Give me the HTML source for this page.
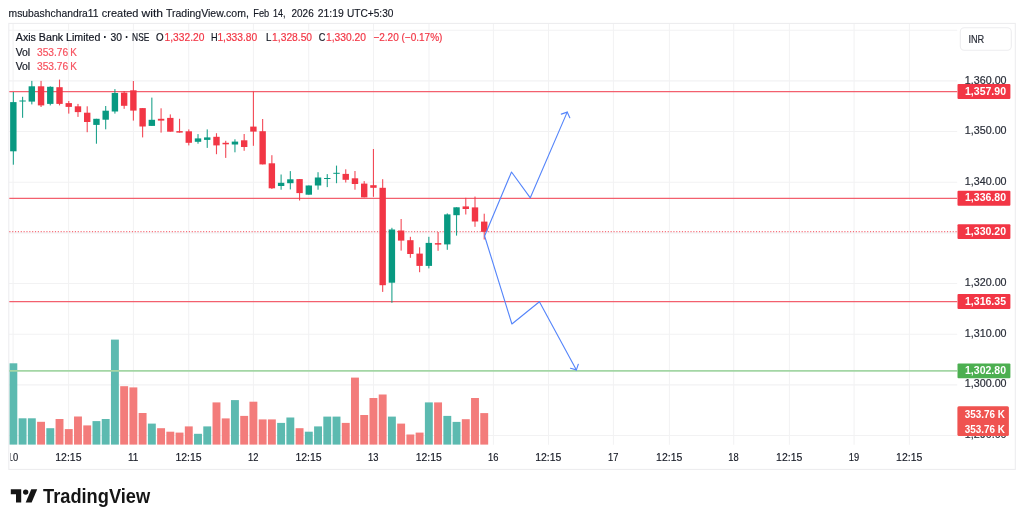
<!DOCTYPE html>
<html lang="en"><head><meta charset="utf-8"><title>Axis Bank Limited chart</title>
<style>html,body{margin:0;padding:0;background:#fff;overflow:hidden}svg{display:block}text{font-family:'Liberation Sans', sans-serif}</style>
</head><body>
<svg width="1024" height="523" viewBox="0 0 1024 523">
<rect width="1024" height="523" fill="#fff"/>
<defs><clipPath id="pane"><rect x="9.3" y="23.4" width="947.9" height="421.4"/></clipPath></defs>
<g stroke="#f2f2f3" stroke-width="1.05" fill="none">
<line x1="13.10" y1="23.4" x2="13.10" y2="444.8"/>
<line x1="68.60" y1="23.4" x2="68.60" y2="444.8"/>
<line x1="133.40" y1="23.4" x2="133.40" y2="444.8"/>
<line x1="188.70" y1="23.4" x2="188.70" y2="444.8"/>
<line x1="253.40" y1="23.4" x2="253.40" y2="444.8"/>
<line x1="308.70" y1="23.4" x2="308.70" y2="444.8"/>
<line x1="373.50" y1="23.4" x2="373.50" y2="444.8"/>
<line x1="429.00" y1="23.4" x2="429.00" y2="444.8"/>
<line x1="493.40" y1="23.4" x2="493.40" y2="444.8"/>
<line x1="548.50" y1="23.4" x2="548.50" y2="444.8"/>
<line x1="613.40" y1="23.4" x2="613.40" y2="444.8"/>
<line x1="669.40" y1="23.4" x2="669.40" y2="444.8"/>
<line x1="733.70" y1="23.4" x2="733.70" y2="444.8"/>
<line x1="789.40" y1="23.4" x2="789.40" y2="444.8"/>
<line x1="854.10" y1="23.4" x2="854.10" y2="444.8"/>
<line x1="909.40" y1="23.4" x2="909.40" y2="444.8"/>
<line x1="8.8" y1="435.55" x2="957.2" y2="435.55"/>
<line x1="8.8" y1="384.88" x2="957.2" y2="384.88"/>
<line x1="8.8" y1="334.21" x2="957.2" y2="334.21"/>
<line x1="8.8" y1="283.54" x2="957.2" y2="283.54"/>
<line x1="8.8" y1="232.87" x2="957.2" y2="232.87"/>
<line x1="8.8" y1="182.20" x2="957.2" y2="182.20"/>
<line x1="8.8" y1="131.53" x2="957.2" y2="131.53"/>
<line x1="8.8" y1="80.86" x2="957.2" y2="80.86"/>
<line x1="8.8" y1="30.19" x2="957.2" y2="30.19"/>
</g>
<rect x="8.8" y="23.4" width="1006.5" height="446.0" fill="none" stroke="#ededef" stroke-width="1.1"/>
<g clip-path="url(#pane)">
<rect x="9.40" y="363.3" width="7.9" height="81.5" fill="#5cbab0"/>
<rect x="18.63" y="418.3" width="7.9" height="26.5" fill="#5cbab0"/>
<rect x="27.87" y="418.3" width="7.9" height="26.5" fill="#5cbab0"/>
<rect x="37.10" y="421.8" width="7.9" height="23.0" fill="#f37c7b"/>
<rect x="46.33" y="428.2" width="7.9" height="16.6" fill="#5cbab0"/>
<rect x="55.57" y="419.0" width="7.9" height="25.8" fill="#f37c7b"/>
<rect x="64.80" y="429.1" width="7.9" height="15.7" fill="#f37c7b"/>
<rect x="74.03" y="416.5" width="7.9" height="28.3" fill="#f37c7b"/>
<rect x="83.26" y="425.4" width="7.9" height="19.4" fill="#f37c7b"/>
<rect x="92.50" y="421.1" width="7.9" height="23.7" fill="#5cbab0"/>
<rect x="101.73" y="419.0" width="7.9" height="25.8" fill="#5cbab0"/>
<rect x="110.96" y="339.6" width="7.9" height="105.2" fill="#5cbab0"/>
<rect x="120.20" y="386.2" width="7.9" height="58.6" fill="#f37c7b"/>
<rect x="129.43" y="387.4" width="7.9" height="57.4" fill="#f37c7b"/>
<rect x="138.66" y="413.0" width="7.9" height="31.8" fill="#f37c7b"/>
<rect x="147.90" y="423.6" width="7.9" height="21.2" fill="#5cbab0"/>
<rect x="157.13" y="428.2" width="7.9" height="16.6" fill="#f37c7b"/>
<rect x="166.36" y="431.7" width="7.9" height="13.1" fill="#f37c7b"/>
<rect x="175.59" y="432.6" width="7.9" height="12.2" fill="#f37c7b"/>
<rect x="184.83" y="426.4" width="7.9" height="18.4" fill="#f37c7b"/>
<rect x="194.06" y="433.8" width="7.9" height="11.0" fill="#5cbab0"/>
<rect x="203.29" y="426.4" width="7.9" height="18.4" fill="#5cbab0"/>
<rect x="212.53" y="402.4" width="7.9" height="42.4" fill="#f37c7b"/>
<rect x="221.76" y="418.4" width="7.9" height="26.4" fill="#f37c7b"/>
<rect x="230.99" y="400.1" width="7.9" height="44.7" fill="#5cbab0"/>
<rect x="240.23" y="415.9" width="7.9" height="28.9" fill="#f37c7b"/>
<rect x="249.46" y="401.7" width="7.9" height="43.1" fill="#f37c7b"/>
<rect x="258.69" y="419.4" width="7.9" height="25.4" fill="#f37c7b"/>
<rect x="267.92" y="419.4" width="7.9" height="25.4" fill="#f37c7b"/>
<rect x="277.16" y="422.9" width="7.9" height="21.9" fill="#5cbab0"/>
<rect x="286.39" y="417.5" width="7.9" height="27.3" fill="#5cbab0"/>
<rect x="295.62" y="428.2" width="7.9" height="16.6" fill="#f37c7b"/>
<rect x="304.86" y="431.7" width="7.9" height="13.1" fill="#5cbab0"/>
<rect x="314.09" y="426.4" width="7.9" height="18.4" fill="#5cbab0"/>
<rect x="323.32" y="416.6" width="7.9" height="28.2" fill="#5cbab0"/>
<rect x="332.56" y="416.6" width="7.9" height="28.2" fill="#5cbab0"/>
<rect x="341.79" y="422.9" width="7.9" height="21.9" fill="#f37c7b"/>
<rect x="351.02" y="377.6" width="7.9" height="67.2" fill="#f37c7b"/>
<rect x="360.25" y="415.0" width="7.9" height="29.8" fill="#f37c7b"/>
<rect x="369.49" y="398.0" width="7.9" height="46.8" fill="#f37c7b"/>
<rect x="378.72" y="394.5" width="7.9" height="50.3" fill="#f37c7b"/>
<rect x="387.95" y="416.6" width="7.9" height="28.2" fill="#5cbab0"/>
<rect x="397.19" y="423.6" width="7.9" height="21.2" fill="#f37c7b"/>
<rect x="406.42" y="434.5" width="7.9" height="10.3" fill="#f37c7b"/>
<rect x="415.65" y="432.6" width="7.9" height="12.2" fill="#f37c7b"/>
<rect x="424.89" y="402.4" width="7.9" height="42.4" fill="#5cbab0"/>
<rect x="434.12" y="402.4" width="7.9" height="42.4" fill="#f37c7b"/>
<rect x="443.35" y="415.9" width="7.9" height="28.9" fill="#5cbab0"/>
<rect x="452.58" y="421.9" width="7.9" height="22.9" fill="#5cbab0"/>
<rect x="461.82" y="419.2" width="7.9" height="25.6" fill="#f37c7b"/>
<rect x="471.05" y="398.0" width="7.9" height="46.8" fill="#f37c7b"/>
<rect x="480.28" y="413.1" width="7.9" height="31.7" fill="#f37c7b"/>
</g>
<line x1="9.3" y1="91.60" x2="957.2" y2="91.60" stroke="#f3606e" stroke-width="1.2"/>
<line x1="9.3" y1="198.35" x2="957.2" y2="198.35" stroke="#f3606e" stroke-width="1.2"/>
<line x1="9.3" y1="301.65" x2="957.2" y2="301.65" stroke="#f3606e" stroke-width="1.2"/>
<line x1="9.3" y1="370.95" x2="957.2" y2="370.95" stroke="#a3d6a5" stroke-width="1.7"/>
<line x1="9.3" y1="231.65" x2="957.2" y2="231.65" stroke="#f23645" stroke-width="1.1" stroke-dasharray="1.15 1.7" opacity="0.7"/>
<g clip-path="url(#pane)">
<rect x="12.80" y="92.0" width="1.1" height="72.7" fill="#089981" opacity="0.9"/>
<rect x="10.15" y="102.1" width="6.4" height="49.2" fill="#089981"/>
<rect x="22.03" y="96.8" width="1.1" height="21.0" fill="#089981" opacity="0.9"/>
<rect x="19.38" y="100.5" width="6.4" height="1.0" fill="#089981"/>
<rect x="31.27" y="80.9" width="1.1" height="23.5" fill="#089981" opacity="0.9"/>
<rect x="28.62" y="86.3" width="6.4" height="15.3" fill="#089981"/>
<rect x="40.50" y="80.9" width="1.1" height="26.1" fill="#f23645" opacity="0.9"/>
<rect x="37.85" y="86.3" width="6.4" height="19.1" fill="#f23645"/>
<rect x="49.73" y="86.3" width="1.1" height="19.1" fill="#089981" opacity="0.9"/>
<rect x="47.08" y="86.8" width="6.4" height="17.1" fill="#089981"/>
<rect x="58.97" y="79.6" width="1.1" height="25.8" fill="#f23645" opacity="0.9"/>
<rect x="56.32" y="87.2" width="6.4" height="16.7" fill="#f23645"/>
<rect x="68.20" y="101.0" width="1.1" height="12.6" fill="#f23645" opacity="0.9"/>
<rect x="65.55" y="103.1" width="6.4" height="3.8" fill="#f23645"/>
<rect x="77.43" y="103.9" width="1.1" height="13.0" fill="#f23645" opacity="0.9"/>
<rect x="74.78" y="106.3" width="6.4" height="5.8" fill="#f23645"/>
<rect x="86.66" y="106.3" width="1.1" height="25.9" fill="#f23645" opacity="0.9"/>
<rect x="84.01" y="112.7" width="6.4" height="9.3" fill="#f23645"/>
<rect x="95.90" y="118.8" width="1.1" height="24.9" fill="#089981" opacity="0.9"/>
<rect x="93.25" y="118.8" width="6.4" height="6.1" fill="#089981"/>
<rect x="105.13" y="106.0" width="1.1" height="23.3" fill="#089981" opacity="0.9"/>
<rect x="102.48" y="110.7" width="6.4" height="9.0" fill="#089981"/>
<rect x="114.36" y="89.1" width="1.1" height="24.5" fill="#089981" opacity="0.9"/>
<rect x="111.71" y="93.0" width="6.4" height="18.5" fill="#089981"/>
<rect x="123.60" y="91.0" width="1.1" height="17.8" fill="#f23645" opacity="0.9"/>
<rect x="120.95" y="92.6" width="6.4" height="13.2" fill="#f23645"/>
<rect x="132.83" y="81.0" width="1.1" height="39.6" fill="#f23645" opacity="0.9"/>
<rect x="130.18" y="90.3" width="6.4" height="20.3" fill="#f23645"/>
<rect x="142.06" y="108.1" width="1.1" height="29.3" fill="#f23645" opacity="0.9"/>
<rect x="139.41" y="108.1" width="6.4" height="18.4" fill="#f23645"/>
<rect x="151.29" y="97.6" width="1.1" height="28.3" fill="#089981" opacity="0.9"/>
<rect x="148.65" y="119.8" width="6.4" height="6.1" fill="#089981"/>
<rect x="160.53" y="108.3" width="1.1" height="24.3" fill="#f23645" opacity="0.9"/>
<rect x="157.88" y="118.8" width="6.4" height="1.8" fill="#f23645"/>
<rect x="169.76" y="114.4" width="1.1" height="17.3" fill="#f23645" opacity="0.9"/>
<rect x="167.11" y="117.9" width="6.4" height="13.8" fill="#f23645"/>
<rect x="178.99" y="118.8" width="1.1" height="13.8" fill="#f23645" opacity="0.9"/>
<rect x="176.34" y="131.1" width="6.4" height="1.5" fill="#f23645"/>
<rect x="188.23" y="129.4" width="1.1" height="16.0" fill="#f23645" opacity="0.9"/>
<rect x="185.58" y="131.3" width="6.4" height="11.5" fill="#f23645"/>
<rect x="197.46" y="134.1" width="1.1" height="9.6" fill="#089981" opacity="0.9"/>
<rect x="194.81" y="138.4" width="6.4" height="3.4" fill="#089981"/>
<rect x="206.69" y="129.4" width="1.1" height="18.5" fill="#089981" opacity="0.9"/>
<rect x="204.04" y="137.4" width="6.4" height="2.5" fill="#089981"/>
<rect x="215.93" y="133.2" width="1.1" height="21.0" fill="#f23645" opacity="0.9"/>
<rect x="213.28" y="136.8" width="6.4" height="8.6" fill="#f23645"/>
<rect x="225.16" y="140.8" width="1.1" height="17.1" fill="#f23645" opacity="0.9"/>
<rect x="222.51" y="142.8" width="6.4" height="1.5" fill="#f23645"/>
<rect x="234.39" y="139.3" width="1.1" height="13.0" fill="#089981" opacity="0.9"/>
<rect x="231.74" y="141.6" width="6.4" height="2.9" fill="#089981"/>
<rect x="243.62" y="134.0" width="1.1" height="16.8" fill="#f23645" opacity="0.9"/>
<rect x="240.98" y="140.3" width="6.4" height="6.7" fill="#f23645"/>
<rect x="252.86" y="91.5" width="1.1" height="54.3" fill="#f23645" opacity="0.9"/>
<rect x="250.21" y="126.6" width="6.4" height="5.0" fill="#f23645"/>
<rect x="262.09" y="119.0" width="1.1" height="45.4" fill="#f23645" opacity="0.9"/>
<rect x="259.44" y="131.2" width="6.4" height="33.2" fill="#f23645"/>
<rect x="271.32" y="155.2" width="1.1" height="33.8" fill="#f23645" opacity="0.9"/>
<rect x="268.67" y="163.3" width="6.4" height="25.0" fill="#f23645"/>
<rect x="280.56" y="174.5" width="1.1" height="15.2" fill="#089981" opacity="0.9"/>
<rect x="277.91" y="182.8" width="6.4" height="3.2" fill="#089981"/>
<rect x="289.79" y="171.1" width="1.1" height="18.3" fill="#089981" opacity="0.9"/>
<rect x="287.14" y="179.3" width="6.4" height="3.9" fill="#089981"/>
<rect x="299.02" y="179.1" width="1.1" height="21.4" fill="#f23645" opacity="0.9"/>
<rect x="296.37" y="179.1" width="6.4" height="14.0" fill="#f23645"/>
<rect x="308.26" y="185.5" width="1.1" height="9.2" fill="#089981" opacity="0.9"/>
<rect x="305.61" y="185.5" width="6.4" height="9.2" fill="#089981"/>
<rect x="317.49" y="172.2" width="1.1" height="17.5" fill="#089981" opacity="0.9"/>
<rect x="314.84" y="177.5" width="6.4" height="8.0" fill="#089981"/>
<rect x="326.72" y="174.1" width="1.1" height="13.0" fill="#089981" opacity="0.9"/>
<rect x="324.07" y="178.0" width="6.4" height="1.0" fill="#089981"/>
<rect x="335.96" y="165.6" width="1.1" height="17.6" fill="#089981" opacity="0.9"/>
<rect x="333.31" y="172.8" width="6.4" height="1.0" fill="#089981"/>
<rect x="345.19" y="169.3" width="1.1" height="13.2" fill="#f23645" opacity="0.9"/>
<rect x="342.54" y="173.9" width="6.4" height="5.9" fill="#f23645"/>
<rect x="354.42" y="171.0" width="1.1" height="18.7" fill="#f23645" opacity="0.9"/>
<rect x="351.77" y="178.3" width="6.4" height="5.7" fill="#f23645"/>
<rect x="363.65" y="181.1" width="1.1" height="16.3" fill="#f23645" opacity="0.9"/>
<rect x="361.00" y="183.6" width="6.4" height="13.8" fill="#f23645"/>
<rect x="372.89" y="149.0" width="1.1" height="47.8" fill="#f23645" opacity="0.9"/>
<rect x="370.24" y="185.2" width="6.4" height="2.6" fill="#f23645"/>
<rect x="382.12" y="179.2" width="1.1" height="112.7" fill="#f23645" opacity="0.9"/>
<rect x="379.47" y="187.8" width="6.4" height="97.4" fill="#f23645"/>
<rect x="391.35" y="227.8" width="1.1" height="75.0" fill="#089981" opacity="0.9"/>
<rect x="388.70" y="229.5" width="6.4" height="53.2" fill="#089981"/>
<rect x="400.59" y="219.0" width="1.1" height="31.6" fill="#f23645" opacity="0.9"/>
<rect x="397.94" y="230.5" width="6.4" height="10.1" fill="#f23645"/>
<rect x="409.82" y="236.8" width="1.1" height="21.0" fill="#f23645" opacity="0.9"/>
<rect x="407.17" y="240.2" width="6.4" height="13.8" fill="#f23645"/>
<rect x="419.05" y="247.3" width="1.1" height="24.9" fill="#f23645" opacity="0.9"/>
<rect x="416.40" y="253.6" width="6.4" height="12.3" fill="#f23645"/>
<rect x="428.29" y="236.8" width="1.1" height="31.6" fill="#089981" opacity="0.9"/>
<rect x="425.64" y="242.9" width="6.4" height="23.0" fill="#089981"/>
<rect x="437.52" y="232.0" width="1.1" height="18.8" fill="#f23645" opacity="0.9"/>
<rect x="434.87" y="243.1" width="6.4" height="1.5" fill="#f23645"/>
<rect x="446.75" y="213.4" width="1.1" height="36.4" fill="#089981" opacity="0.9"/>
<rect x="444.10" y="214.4" width="6.4" height="30.0" fill="#089981"/>
<rect x="455.98" y="207.3" width="1.1" height="28.3" fill="#089981" opacity="0.9"/>
<rect x="453.33" y="207.3" width="6.4" height="7.9" fill="#089981"/>
<rect x="465.22" y="197.8" width="1.1" height="16.7" fill="#f23645" opacity="0.9"/>
<rect x="462.57" y="206.4" width="6.4" height="2.6" fill="#f23645"/>
<rect x="474.45" y="196.6" width="1.1" height="30.2" fill="#f23645" opacity="0.9"/>
<rect x="471.80" y="207.4" width="6.4" height="14.1" fill="#f23645"/>
<rect x="483.68" y="213.7" width="1.1" height="25.8" fill="#f23645" opacity="0.9"/>
<rect x="481.03" y="221.6" width="6.4" height="10.3" fill="#f23645"/>
</g>
<g fill="none" stroke="#5585fa" stroke-width="1.12" stroke-linejoin="round" stroke-linecap="round">
<polyline points="484.6,236 511.5,172 530.3,197.8 567.2,112.1"/>
<polyline points="561.3,114.1 567.2,112.1 569.8,117.7"/>
<polyline points="484.6,236 511.9,324 539.4,301.7 576.4,369.9"/>
<polyline points="570.5,368.2 576.4,369.9 578.3,364.3"/>
</g>
<text x="8.6" y="16.8" font-size="11.4" fill="#131722" stroke="#131722" stroke-width="0.15" textLength="90.0" lengthAdjust="spacingAndGlyphs">msubashchandra11</text>
<text x="101.8" y="16.8" font-size="11.4" fill="#131722" stroke="#131722" stroke-width="0.15" textLength="36.6" lengthAdjust="spacingAndGlyphs">created</text>
<text x="141.6" y="16.8" font-size="11.4" fill="#131722" stroke="#131722" stroke-width="0.15" textLength="21.5" lengthAdjust="spacingAndGlyphs">with</text>
<text x="166.0" y="16.8" font-size="11.4" fill="#131722" stroke="#131722" stroke-width="0.15" textLength="82.8" lengthAdjust="spacingAndGlyphs">TradingView.com,</text>
<text x="253.3" y="16.8" font-size="11.4" fill="#131722" stroke="#131722" stroke-width="0.15" textLength="15.9" lengthAdjust="spacingAndGlyphs">Feb</text>
<text x="273.1" y="16.8" font-size="11.4" fill="#131722" stroke="#131722" stroke-width="0.15" textLength="12.5" lengthAdjust="spacingAndGlyphs">14,</text>
<text x="291.5" y="16.8" font-size="11.4" fill="#131722" stroke="#131722" stroke-width="0.15" textLength="22.2" lengthAdjust="spacingAndGlyphs">2026</text>
<text x="317.8" y="16.8" font-size="11.4" fill="#131722" stroke="#131722" stroke-width="0.15" textLength="26.0" lengthAdjust="spacingAndGlyphs">21:19</text>
<text x="347.0" y="16.8" font-size="11.4" fill="#131722" stroke="#131722" stroke-width="0.15" textLength="46.4" lengthAdjust="spacingAndGlyphs">UTC+5:30</text>
<text x="15.8" y="41.1" font-size="11" fill="#131722" textLength="84.6" lengthAdjust="spacingAndGlyphs" stroke="#131722" stroke-width="0.2">Axis Bank Limited</text>
<text x="103.3" y="41.1" font-size="12" fill="#131722" textLength="3.8" lengthAdjust="spacingAndGlyphs" font-weight="bold">·</text>
<text x="110.5" y="41.1" font-size="11" fill="#131722" textLength="11.5" lengthAdjust="spacingAndGlyphs" stroke="#131722" stroke-width="0.2">30</text>
<text x="124.9" y="41.1" font-size="12" fill="#131722" textLength="3.8" lengthAdjust="spacingAndGlyphs" font-weight="bold">·</text>
<text x="132.1" y="41.1" font-size="11" fill="#131722" textLength="17.2" lengthAdjust="spacingAndGlyphs" stroke="#131722" stroke-width="0.2">NSE</text>
<text x="156.1" y="41.1" font-size="11" fill="#131722" textLength="7.6" lengthAdjust="spacingAndGlyphs" stroke="#131722" stroke-width="0.2">O</text>
<text x="164.6" y="41.1" font-size="11" fill="#f23645" textLength="39.8" lengthAdjust="spacingAndGlyphs" stroke="#f23645" stroke-width="0.2">1,332.20</text>
<text x="211.1" y="41.1" font-size="11" fill="#131722" textLength="6.6" lengthAdjust="spacingAndGlyphs" stroke="#131722" stroke-width="0.2">H</text>
<text x="217.4" y="41.1" font-size="11" fill="#f23645" textLength="39.8" lengthAdjust="spacingAndGlyphs" stroke="#f23645" stroke-width="0.2">1,333.80</text>
<text x="266.0" y="41.1" font-size="11" fill="#131722" textLength="5.4" lengthAdjust="spacingAndGlyphs" stroke="#131722" stroke-width="0.2">L</text>
<text x="272.1" y="41.1" font-size="11" fill="#f23645" textLength="40.0" lengthAdjust="spacingAndGlyphs" stroke="#f23645" stroke-width="0.2">1,328.50</text>
<text x="318.8" y="41.1" font-size="11" fill="#131722" textLength="6.6" lengthAdjust="spacingAndGlyphs" stroke="#131722" stroke-width="0.2">C</text>
<text x="326.0" y="41.1" font-size="11" fill="#f23645" textLength="40.0" lengthAdjust="spacingAndGlyphs" stroke="#f23645" stroke-width="0.2">1,330.20</text>
<text x="373.4" y="41.1" font-size="11" fill="#f23645" textLength="69.0" lengthAdjust="spacingAndGlyphs" stroke="#f23645" stroke-width="0.2">−2.20 (−0.17%)</text>
<text x="15.7" y="55.7" font-size="11" fill="#131722" textLength="14.5" lengthAdjust="spacingAndGlyphs" stroke="#131722" stroke-width="0.2">Vol</text>
<text x="37.0" y="55.7" font-size="11" fill="#f7525f" textLength="31.2" lengthAdjust="spacingAndGlyphs" stroke="#f7525f" stroke-width="0.2">353.76</text>
<text x="70.3" y="55.7" font-size="11" fill="#f7525f" textLength="6.6" lengthAdjust="spacingAndGlyphs" stroke="#f7525f" stroke-width="0.2">K</text>
<text x="15.7" y="70.3" font-size="11" fill="#131722" textLength="14.5" lengthAdjust="spacingAndGlyphs" stroke="#131722" stroke-width="0.2">Vol</text>
<text x="37.0" y="70.3" font-size="11" fill="#f7525f" textLength="31.2" lengthAdjust="spacingAndGlyphs" stroke="#f7525f" stroke-width="0.2">353.76</text>
<text x="70.3" y="70.3" font-size="11" fill="#f7525f" textLength="6.6" lengthAdjust="spacingAndGlyphs" stroke="#f7525f" stroke-width="0.2">K</text>
<rect x="960.3" y="27.7" width="51" height="22.5" rx="4" ry="4" fill="#fff" stroke="#ededef" stroke-width="1.1"/>
<text x="968.4" y="43.2" font-size="11" fill="#2a2e39" textLength="15.8" lengthAdjust="spacingAndGlyphs" stroke="#2a2e39" stroke-width="0.2">INR</text>
<text x="964.8" y="83.8" font-size="11" fill="#2a2e39" textLength="41.8" lengthAdjust="spacingAndGlyphs" stroke="#2a2e39" stroke-width="0.2">1,360.00</text>
<text x="964.8" y="134.4" font-size="11" fill="#2a2e39" textLength="41.8" lengthAdjust="spacingAndGlyphs" stroke="#2a2e39" stroke-width="0.2">1,350.00</text>
<text x="964.8" y="185.0" font-size="11" fill="#2a2e39" textLength="41.8" lengthAdjust="spacingAndGlyphs" stroke="#2a2e39" stroke-width="0.2">1,340.00</text>
<text x="964.8" y="286.2" font-size="11" fill="#2a2e39" textLength="41.8" lengthAdjust="spacingAndGlyphs" stroke="#2a2e39" stroke-width="0.2">1,320.00</text>
<text x="964.8" y="336.8" font-size="11" fill="#2a2e39" textLength="41.8" lengthAdjust="spacingAndGlyphs" stroke="#2a2e39" stroke-width="0.2">1,310.00</text>
<text x="964.8" y="387.4" font-size="11" fill="#2a2e39" textLength="41.8" lengthAdjust="spacingAndGlyphs" stroke="#2a2e39" stroke-width="0.2">1,300.00</text>
<text x="964.8" y="438.0" font-size="11" fill="#2a2e39" textLength="41.8" lengthAdjust="spacingAndGlyphs" stroke="#2a2e39" stroke-width="0.2">1,290.00</text>
<rect x="957.4" y="406.2" width="51.5" height="29.7" rx="1.5" fill="#ef5350"/>
<text x="964.7" y="418.0" font-size="11" fill="#fff" textLength="40.1" lengthAdjust="spacingAndGlyphs" font-weight="bold">353.76 K</text>
<text x="964.7" y="432.5" font-size="11" fill="#fff" textLength="40.1" lengthAdjust="spacingAndGlyphs" font-weight="bold">353.76 K</text>
<rect x="957.5" y="84.1" width="52.9" height="14.9" rx="1" fill="#f23645"/>
<text x="965.0" y="94.6" font-size="10.6" fill="#fff" textLength="41.0" lengthAdjust="spacingAndGlyphs" font-weight="bold">1,357.90</text>
<rect x="957.5" y="190.8" width="52.9" height="14.9" rx="1" fill="#f23645"/>
<text x="965.0" y="201.3" font-size="10.6" fill="#fff" textLength="41.0" lengthAdjust="spacingAndGlyphs" font-weight="bold">1,336.80</text>
<rect x="957.5" y="224.2" width="52.9" height="14.9" rx="1" fill="#f23645"/>
<text x="965.0" y="234.7" font-size="10.6" fill="#fff" textLength="41.0" lengthAdjust="spacingAndGlyphs" font-weight="bold">1,330.20</text>
<rect x="957.5" y="294.1" width="52.9" height="14.9" rx="1" fill="#f23645"/>
<text x="965.0" y="304.6" font-size="10.6" fill="#fff" textLength="41.0" lengthAdjust="spacingAndGlyphs" font-weight="bold">1,316.35</text>
<rect x="957.5" y="363.4" width="52.9" height="14.9" rx="1" fill="#4caf50"/>
<text x="965.0" y="373.9" font-size="10.6" fill="#fff" textLength="41.0" lengthAdjust="spacingAndGlyphs" font-weight="bold">1,302.80</text>
<g clip-path="url(#pane2)">
<defs><clipPath id="pane2"><rect x="10.6" y="446" width="1004" height="23"/></clipPath></defs>
<text x="7.7" y="461.3" font-size="11" fill="#131722" stroke="#131722" stroke-width="0.15" textLength="10.4" lengthAdjust="spacingAndGlyphs">10</text>
<text x="55.3" y="461.3" font-size="11" fill="#131722" stroke="#131722" stroke-width="0.15" textLength="26.2" lengthAdjust="spacingAndGlyphs">12:15</text>
<text x="128.0" y="461.3" font-size="11" fill="#131722" stroke="#131722" stroke-width="0.15" textLength="10.4" lengthAdjust="spacingAndGlyphs">11</text>
<text x="175.4" y="461.3" font-size="11" fill="#131722" stroke="#131722" stroke-width="0.15" textLength="26.2" lengthAdjust="spacingAndGlyphs">12:15</text>
<text x="248.0" y="461.3" font-size="11" fill="#131722" stroke="#131722" stroke-width="0.15" textLength="10.4" lengthAdjust="spacingAndGlyphs">12</text>
<text x="295.4" y="461.3" font-size="11" fill="#131722" stroke="#131722" stroke-width="0.15" textLength="26.2" lengthAdjust="spacingAndGlyphs">12:15</text>
<text x="368.1" y="461.3" font-size="11" fill="#131722" stroke="#131722" stroke-width="0.15" textLength="10.4" lengthAdjust="spacingAndGlyphs">13</text>
<text x="415.7" y="461.3" font-size="11" fill="#131722" stroke="#131722" stroke-width="0.15" textLength="26.2" lengthAdjust="spacingAndGlyphs">12:15</text>
<text x="488.0" y="461.3" font-size="11" fill="#131722" stroke="#131722" stroke-width="0.15" textLength="10.4" lengthAdjust="spacingAndGlyphs">16</text>
<text x="535.2" y="461.3" font-size="11" fill="#131722" stroke="#131722" stroke-width="0.15" textLength="26.2" lengthAdjust="spacingAndGlyphs">12:15</text>
<text x="608.0" y="461.3" font-size="11" fill="#131722" stroke="#131722" stroke-width="0.15" textLength="10.4" lengthAdjust="spacingAndGlyphs">17</text>
<text x="656.1" y="461.3" font-size="11" fill="#131722" stroke="#131722" stroke-width="0.15" textLength="26.2" lengthAdjust="spacingAndGlyphs">12:15</text>
<text x="728.3" y="461.3" font-size="11" fill="#131722" stroke="#131722" stroke-width="0.15" textLength="10.4" lengthAdjust="spacingAndGlyphs">18</text>
<text x="776.1" y="461.3" font-size="11" fill="#131722" stroke="#131722" stroke-width="0.15" textLength="26.2" lengthAdjust="spacingAndGlyphs">12:15</text>
<text x="848.7" y="461.3" font-size="11" fill="#131722" stroke="#131722" stroke-width="0.15" textLength="10.4" lengthAdjust="spacingAndGlyphs">19</text>
<text x="896.1" y="461.3" font-size="11" fill="#131722" stroke="#131722" stroke-width="0.15" textLength="26.2" lengthAdjust="spacingAndGlyphs">12:15</text>
</g>
<g transform="translate(10.8,486.15) scale(0.744)" fill="#151515">
<path d="M14 22H7V11H0V4h14v18z"/><circle cx="20" cy="8" r="3.6"/><path d="M28 22h-8l7.5-18h8L28 22z"/>
</g>
<text x="43.0" y="502.5" font-size="19.3" font-weight="bold" fill="#151515" textLength="107.2" lengthAdjust="spacingAndGlyphs">TradingView</text>
</svg></body></html>
